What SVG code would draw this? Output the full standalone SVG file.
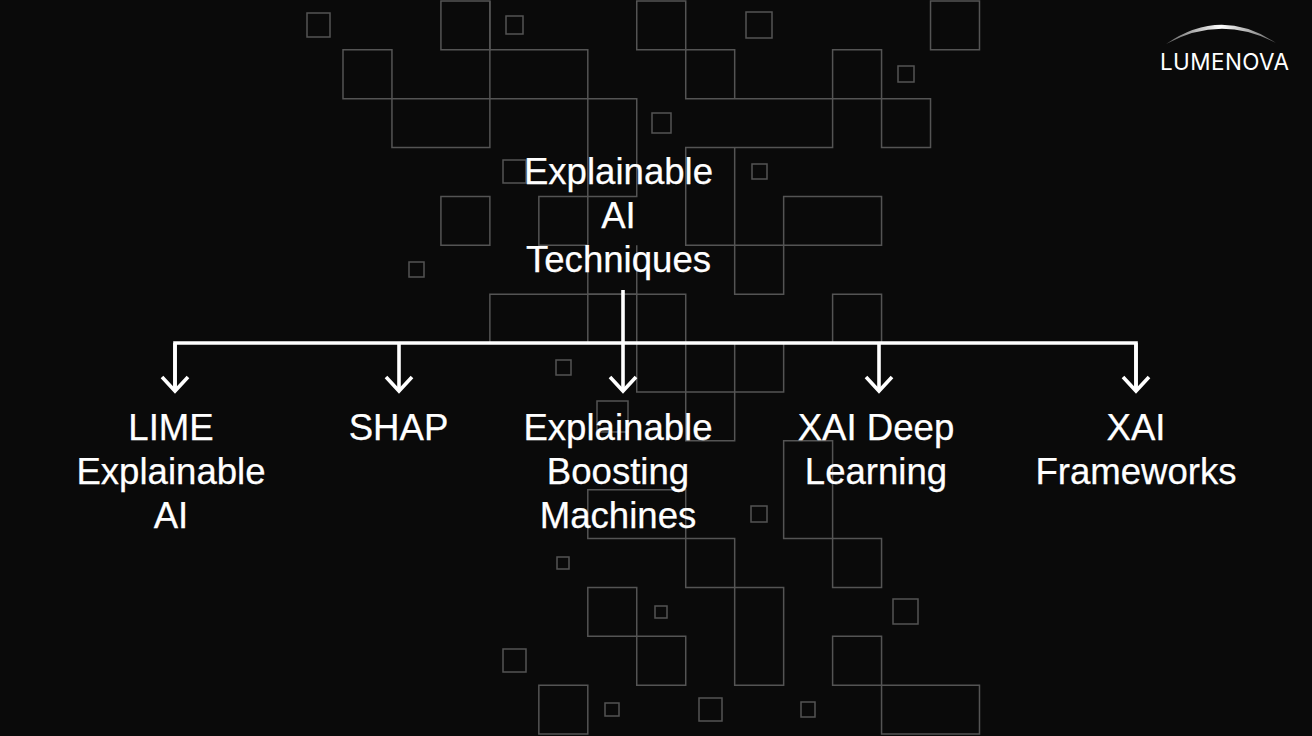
<svg xmlns="http://www.w3.org/2000/svg" width="1312" height="736" viewBox="0 0 1312 736">
<style>
.bg{fill:#0a0a0a}
.grid rect,.grid path{fill:none;stroke:#545454;stroke-width:1.5}
.conn{fill:none;stroke:#fff;stroke-width:3.6}
.lbl{font-family:"Liberation Sans",Arial,sans-serif;font-size:36.6px;fill:#fff;stroke:#fff;stroke-width:.25;text-anchor:middle}
.logo{font-family:"Inter","Noto Sans",sans-serif;font-weight:400;font-size:22.5px;fill:#fff}
</style>
<defs>
<marker id="head" markerUnits="userSpaceOnUse" markerWidth="34" markerHeight="24" refX="17" refY="19" orient="auto-start-reverse" viewBox="0 0 34 24" overflow="visible">
<path d="M4 5L17 19L30 5" fill="none" stroke="#fff" stroke-width="3.6" transform="rotate(-90 17 19)"/>
</marker>
<linearGradient id="arcfade" x1="0" x2="1" y1="0" y2="0">
<stop offset="0" stop-color="#fff" stop-opacity=".35"/>
<stop offset=".5" stop-color="#fff"/>
<stop offset="1" stop-color="#fff" stop-opacity=".35"/>
</linearGradient>
</defs>
<rect class="bg" width="1312" height="736"/>
<g class="grid" id="background-grid">
<g transform="matrix(0.9992 0 0 0.9973 0.27 0.0027)">
<path d="M441 1H490V50H441ZM637 1H686V50H637ZM931 1H980V50H931Z"/>
<path d="M343 50H392V99H343ZM392 99H490V148H392ZM490 1V148M490 50H588V197M392 99H637V197H539V246H588V197M588 246V295M588 295H637M441 197H490V246H441Z"/>
<path d="M686 50H735V99H686ZM686 99H931V148H882V50H833V148H686V246H784V295H735V148M784 246V197H882V246H784M833 50H882"/>
<path d="M490 344V295H686V442H735V344M637 246V393H784V344M833 344V295H882V344M588 295V344"/>
<path d="M784 442H833V589H882V540H784ZM588 491H686V589H735V540H588ZM588 589H637V638H588ZM637 638H686V687H637ZM735 589H784V687H735ZM539 687H588V736H539ZM833 638H882V687H833ZM882 687H980V736H882Z"/>
</g>
<rect x="307" y="13" width="23" height="24"/>
<rect x="506" y="16" width="17" height="18"/>
<rect x="652" y="113" width="19" height="20"/>
<rect x="503" y="160" width="23" height="23"/>
<rect x="746" y="12" width="26" height="26"/>
<rect x="898" y="66" width="16" height="16"/>
<rect x="752" y="164" width="15" height="15"/>
<rect x="409" y="262" width="15" height="15"/>
<rect x="556" y="360" width="15" height="15"/>
<rect x="597" y="401" width="31" height="31"/>
<rect x="751" y="506" width="16" height="16"/>
<rect x="557" y="557" width="12" height="12"/>
<rect x="655" y="606" width="12" height="12"/>
<rect x="893" y="599" width="25" height="25"/>
<rect x="503" y="649" width="23" height="23"/>
<rect x="605" y="703" width="14" height="13"/>
<rect x="699" y="698" width="23" height="23"/>
<rect x="801" y="702" width="14" height="15"/>
</g>
<g id="connectors">
<path class="conn" d="M623 290V343M175 391V343H1136V391"/>
<path class="conn" d="M175 343V391" marker-end="url(#head)"/>
<path class="conn" d="M399 343V391" marker-end="url(#head)"/>
<path class="conn" d="M623 343V391" marker-end="url(#head)"/>
<path class="conn" d="M879 343V391" marker-end="url(#head)"/>
<path class="conn" d="M1136 343V391" marker-end="url(#head)"/>
</g>
<g id="root"><text class="lbl" x="618.500" y="184">Explainable</text><text class="lbl" x="618.500" y="228">AI</text><text class="lbl" x="618.500" y="272">Techniques</text></g>
<g id="lime"><text class="lbl" x="171" y="440">LIME</text><text class="lbl" x="171" y="484">Explainable</text><text class="lbl" x="171" y="528">AI</text></g>
<g id="shap"><text class="lbl" x="398.500" y="440">SHAP</text></g>
<g id="ebm"><text class="lbl" x="618" y="440">Explainable</text><text class="lbl" x="618" y="484">Boosting</text><text class="lbl" x="618" y="528">Machines</text></g>
<g id="xai-dl"><text class="lbl" x="876" y="440">XAI Deep</text><text class="lbl" x="876" y="484">Learning</text></g>
<g id="xai-fw"><text class="lbl" x="1136" y="440">XAI</text><text class="lbl" x="1136" y="484">Frameworks</text></g>
<g id="logo">
<path d="M1166 44Q1221 6 1276 43Q1221 14 1166 44Z" fill="url(#arcfade)"/>
<text class="logo" x="1160" y="70" textLength="129" lengthAdjust="spacing">LUMENOVA</text>
</g>
</svg>
